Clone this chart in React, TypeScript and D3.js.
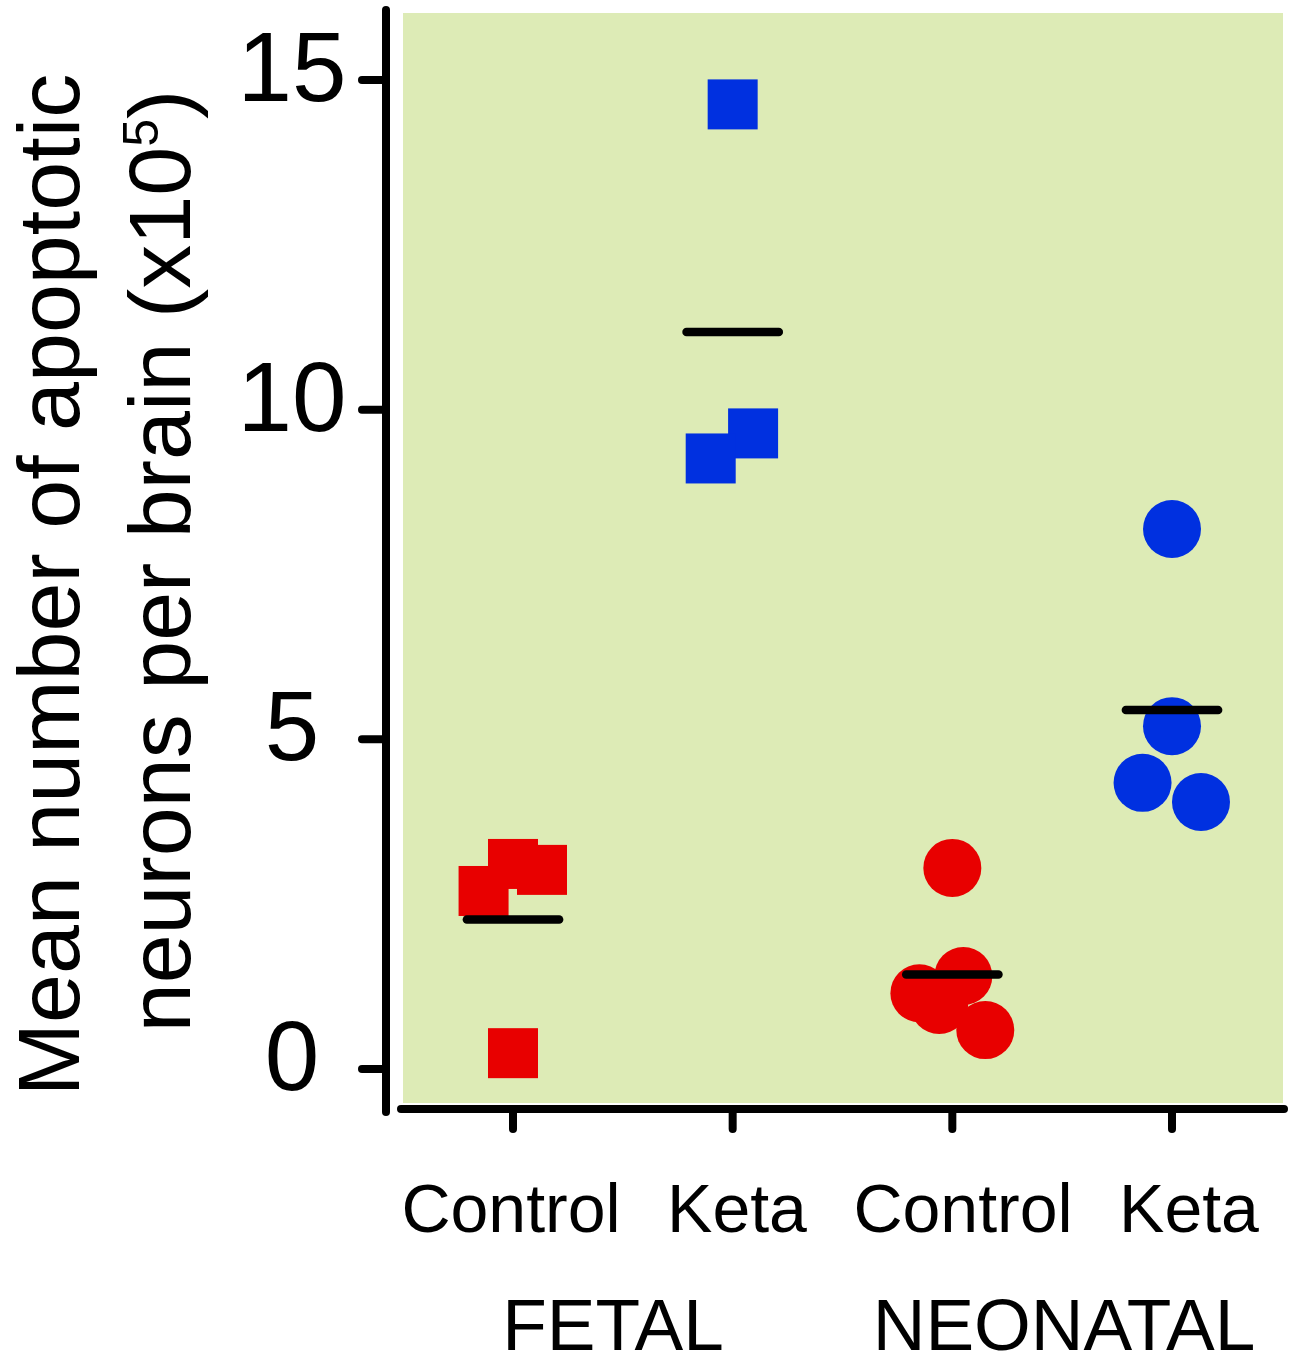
import React, { useEffect, useRef } from 'react'
import * as d3 from 'd3'

// groups along the x axis
const categories = ['Control', 'Keta', 'Control', 'Keta']
const groupLabels = ['FETAL', 'NEONATAL']
const yTicks = [0, 5, 10, 15]

// values (x10^5 neurons)
const fetalControl = [0.24, 2.7, 3.11, 3.02]
const fetalKeta = [14.63, 9.64, 9.26]
const neonatalControl = [3.05, 1.41, 1.15, 0.97, 0.59]
const neonatalKeta = [8.19, 5.2, 4.34, 4.05]

// horizontal scatter of each point, in category widths
const fetalControlJitter = [0, -0.134, 0, 0.132]
const fetalKetaJitter = [0, 0.093, -0.1]
const neonatalControlJitter = [0, 0.05, -0.15, -0.06, 0.15]
const neonatalKetaJitter = [0, 0, -0.134, 0.132]

const RED = '#e80000'
const BLUE = '#0030e0'
const GREEN = '#ddebb6'

export default function App () {
  const ref = useRef<SVGSVGElement>(null)

  useEffect(() => {
    const svg = d3.select(ref.current)
    svg.selectAll('*').remove()

    const groups = [
      { values: fetalControl, jitter: fetalControlJitter, color: RED, shape: 'square' },
      { values: fetalKeta, jitter: fetalKetaJitter, color: BLUE, shape: 'square' },
      { values: neonatalControl, jitter: neonatalControlJitter, color: RED, shape: 'circle' },
      { values: neonatalKeta, jitter: neonatalKetaJitter, color: BLUE, shape: 'circle' }
    ]

    const x = d3.scaleLinear().domain([0, 3]).range([513, 1172])
    const y = d3.scaleLinear().domain([0, 15]).range([1069, 80])
    const labelX = d3.scaleLinear().domain([0, 3]).range([511, 1189])
    const groupX = d3.scaleLinear().domain([0, 1]).range([613, 1064])

    const font = '"Liberation Sans", Arial, sans-serif'

    // plot background
    svg.append('rect')
      .attr('x', 403).attr('y', 13)
      .attr('width', 1283 - 403).attr('height', 1103 - 13)
      .attr('fill', GREEN)

    // points
    groups.forEach((g, gi) => {
      const pts = g.values.map((v, i) => ({ cx: x(gi + g.jitter[i]), cy: y(v) }))
      if (g.shape === 'square') {
        svg.append('g').selectAll('rect')
          .data(pts)
          .enter()
          .append('rect')
            .attr('x', d => d.cx - 25)
            .attr('y', d => d.cy - 25)
            .attr('width', 50)
            .attr('height', 50)
            .attr('fill', g.color)
      } else {
        svg.append('g').selectAll('circle')
          .data(pts)
          .enter()
          .append('circle')
            .attr('cx', d => d.cx)
            .attr('cy', d => d.cy)
            .attr('r', 29)
            .attr('fill', g.color)
      }
    })

    // mean lines
    svg.append('g').selectAll('line')
      .data(groups)
      .enter()
      .append('line')
        .attr('x1', (d, i) => x(i - 0.21))
        .attr('x2', (d, i) => x(i + 0.21))
        .attr('y1', d => y(d3.mean(d.values) as number))
        .attr('y2', d => y(d3.mean(d.values) as number))
        .attr('stroke', '#000')
        .attr('stroke-width', 8.5)
        .attr('stroke-linecap', 'round')

    // y axis
    const yAxis = svg.append('g')
    yAxis.append('line')
      .attr('x1', 386).attr('x2', 386)
      .attr('y1', 10).attr('y2', 1112)
      .attr('stroke', '#000').attr('stroke-width', 8).attr('stroke-linecap', 'round')
    yAxis.selectAll('line.tick')
      .data(yTicks)
      .enter()
      .append('line')
        .attr('class', 'tick')
        .attr('x1', 362).attr('x2', 386)
        .attr('y1', d => y(d)).attr('y2', d => y(d))
        .attr('stroke', '#000').attr('stroke-width', 8).attr('stroke-linecap', 'round')
    yAxis.selectAll('text')
      .data(yTicks)
      .enter()
      .append('text')
        .attr('x', 292)
        .attr('y', d => y(d) + 21)
        .attr('text-anchor', 'middle')
        .attr('font-family', font)
        .attr('font-size', 98)
        .text(d => d)

    // x axis
    const xAxis = svg.append('g')
    xAxis.append('line')
      .attr('x1', 401).attr('x2', 1284)
      .attr('y1', 1109).attr('y2', 1109)
      .attr('stroke', '#000').attr('stroke-width', 8).attr('stroke-linecap', 'round')
    xAxis.selectAll('line.tick')
      .data(categories)
      .enter()
      .append('line')
        .attr('class', 'tick')
        .attr('x1', (d, i) => x(i)).attr('x2', (d, i) => x(i))
        .attr('y1', 1109).attr('y2', 1129)
        .attr('stroke', '#000').attr('stroke-width', 8).attr('stroke-linecap', 'round')
    xAxis.selectAll('text.cat')
      .data(categories)
      .enter()
      .append('text')
        .attr('class', 'cat')
        .attr('x', (d, i) => labelX(i))
        .attr('y', 1232)
        .attr('text-anchor', 'middle')
        .attr('font-family', font)
        .attr('font-size', 68)
        .text(d => d)
    xAxis.selectAll('text.grp')
      .data(groupLabels)
      .enter()
      .append('text')
        .attr('class', 'grp')
        .attr('x', (d, i) => groupX(i))
        .attr('y', 1350)
        .attr('text-anchor', 'middle')
        .attr('font-family', font)
        .attr('font-size', 73)
        .text(d => d)

    // y axis title
    svg.append('text')
      .attr('transform', 'translate(79,585) rotate(-90)')
      .attr('text-anchor', 'middle')
      .attr('font-family', font)
      .attr('font-size', 88)
      .text('Mean number of apoptotic')

    const t2 = svg.append('text')
      .attr('transform', 'translate(190,561) rotate(-90)')
      .attr('text-anchor', 'middle')
      .attr('font-family', font)
      .attr('font-size', 88)
    t2.append('tspan').text('neurons per brain (x10')
    t2.append('tspan').attr('dy', -32).attr('font-size', 50).text('5')
    t2.append('tspan').attr('dy', 32).text(')')
  }, [])

  return (
    <svg
      ref={ref}
      width={1291}
      height={1357}
      style={{ position: 'absolute', left: 0, top: 0, background: '#fff' }}
    />
  )
}
